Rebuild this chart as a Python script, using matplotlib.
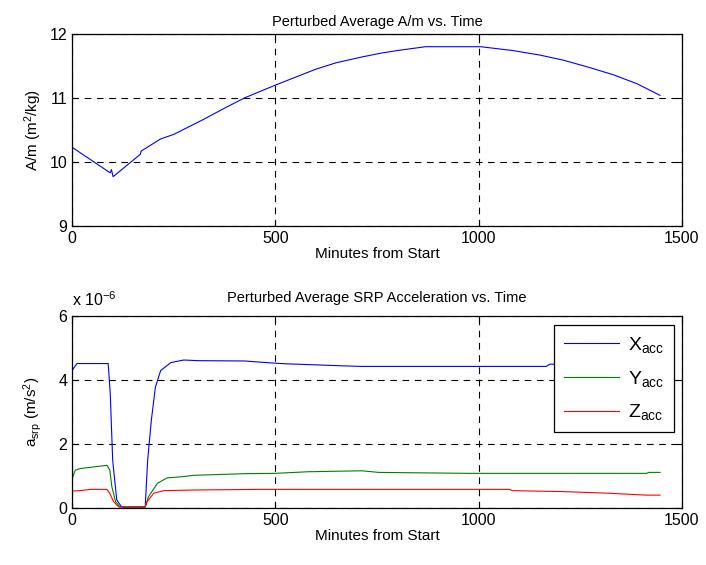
import matplotlib
matplotlib.use("Agg")
import matplotlib.pyplot as plt

plt.rcParams['font.family'] = ['Liberation Sans', 'DejaVu Sans']
plt.rcParams['mathtext.fontset'] = 'custom'
plt.rcParams['mathtext.rm'] = 'Liberation Sans'
plt.rcParams['mathtext.it'] = 'Liberation Sans'

# top panel: perturbed average A/m (m^2/kg)
am_t = [0, 94, 97, 101, 168, 170, 218, 250, 325, 375, 424, 500, 600, 650, 713, 760, 800, 869, 930,
        1005, 1084, 1150, 1208, 1270, 1332, 1390, 1446]
am_v = [10.23, 9.83, 9.88, 9.77, 10.12, 10.17, 10.36, 10.43, 10.67, 10.84, 11.0, 11.2, 11.45, 11.55,
        11.64, 11.70, 11.74, 11.80, 11.80, 11.80, 11.74, 11.67, 11.59, 11.48, 11.36, 11.22, 11.04]

# bottom panel: SRP acceleration (x 1e-6 m/s^2)
x_t = [0, 12, 89, 94, 100, 110, 122, 180, 186, 195, 205, 218, 243, 275, 310, 424, 500, 530, 663, 713, 1166, 1175, 1440]
x_v = [4.29, 4.51, 4.51, 3.57, 1.49, 0.25, 0.03, 0.03, 1.49, 2.73, 3.77, 4.29, 4.54, 4.62, 4.60, 4.59, 4.52, 4.50, 4.44, 4.42, 4.42, 4.49, 4.49]

y_t = [0, 8, 20, 86, 93, 98, 107, 118, 180, 188, 210, 234, 267, 300, 424, 500, 580, 713, 754, 977, 1413, 1418, 1446]
y_v = [0.90, 1.18, 1.23, 1.33, 1.18, 0.66, 0.20, 0.03, 0.03, 0.35, 0.77, 0.94, 0.97, 1.02, 1.07, 1.08, 1.13, 1.16, 1.11, 1.08, 1.08, 1.11, 1.11]

z_t = [0, 20, 45, 86, 93, 102, 115, 180, 185, 201, 226, 300, 465, 1076, 1082, 1208, 1319, 1413, 1446]
z_v = [0.53, 0.54, 0.58, 0.58, 0.45, 0.20, 0.03, 0.03, 0.20, 0.46, 0.54, 0.56, 0.58, 0.58, 0.54, 0.51, 0.46, 0.40, 0.40]

fig = plt.figure(figsize=(7.06, 5.65), dpi=100)
ax1 = fig.add_axes([0.102, 0.600, 0.864, 0.340])
ax2 = fig.add_axes([0.102, 0.101, 0.864, 0.340])

def matlab_style(ax):
    ax.grid(True, color='black', linestyle=(0, (6, 5)), linewidth=0.8)
    ax.tick_params(direction='in', top=True, right=True, labelsize=11.5, length=4)
    for s in ax.spines.values():
        s.set_linewidth(0.9)
    ax.set_xlim(0, 1500)
    ax.set_xticks([0, 500, 1000, 1500])

ax1.plot(am_t, am_v, color='blue', linewidth=0.8)
matlab_style(ax1)
ax1.set_ylim(9, 12)
ax1.set_yticks([9, 10, 11, 12])
ax1.set_title('Perturbed Average A/m vs. Time', fontsize=10.5, pad=6)
ax1.set_xlabel('Minutes from Start', fontsize=11, labelpad=1)
ax1.set_ylabel('A/m (m$^2$/kg)', fontsize=11, labelpad=4)

ax2.plot(x_t, x_v, color='blue', linewidth=0.8, label='X$_{acc}$')
ax2.plot(y_t, y_v, color='green', linewidth=0.8, label='Y$_{acc}$')
ax2.plot(z_t, z_v, color='red', linewidth=0.8, label='Z$_{acc}$')
matlab_style(ax2)
ax2.set_ylim(0, 6)
ax2.set_yticks([0, 2, 4, 6])
ax2.set_title('Perturbed Average SRP Acceleration vs. Time', fontsize=10.5, pad=10)
ax2.set_xlabel('Minutes from Start', fontsize=11, labelpad=1)
ax2.set_ylabel('a$_{srp}$ (m/s$^2$)', fontsize=11, labelpad=10)
ax2.text(0.0, 1.035, 'x 10$^{-6}$', transform=ax2.transAxes, fontsize=11.5, ha='left', va='bottom')

leg = ax2.legend(loc='upper right', fontsize=14, fancybox=False, framealpha=1,
                 edgecolor='black', borderaxespad=0, handlelength=2.8,
                 handletextpad=0.5, labelspacing=0.7, borderpad=0.5,
                 bbox_to_anchor=(0.987, 0.95))
leg.get_frame().set_linewidth(0.9)

fig.savefig('out.png', dpi=100)
